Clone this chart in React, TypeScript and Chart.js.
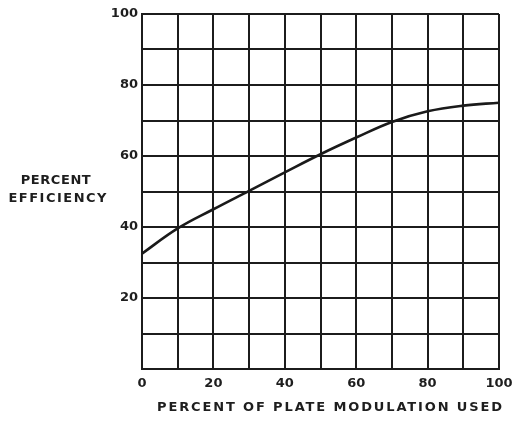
import React, { useEffect, useRef } from "react";
import { Chart, registerables } from "chart.js";

Chart.register(...registerables);

const modulation = [0, 10, 20, 30, 40, 50, 60, 70, 80, 90, 100];
const efficiency = [32.5, 39.6, 45, 50.2, 55.4, 60.5, 65.2, 69.6, 72.6, 74.2, 75];
const xTickLabels = [0, 20, 40, 60, 80, 100];
const yTickLabels = [20, 40, 60, 80, 100];
const yTitleLines = ["PERCENT", "EFFICIENCY"];
const xTitle = "PERCENT OF PLATE MODULATION USED";

const INK = "#1e1e1e";
const FONT_FAMILY = "'DejaVu Sans', sans-serif";

const titlePlugin = {
  id: "titles",
  afterDraw(chart: any) {
    const ctx = chart.ctx as CanvasRenderingContext2D;
    ctx.save();
    ctx.fillStyle = INK;
    ctx.textBaseline = "middle";
    ctx.textAlign = "center";
    ctx.font = `bold 13px ${FONT_FAMILY}`;
    const yCenters = [181, 198.5];
    const yTargets = [70, 98];
    yTitleLines.forEach((line, i) => {
      (ctx as any).letterSpacing = "0px";
      const w0 = ctx.measureText(line).width;
      const ls = (yTargets[i] - w0) / Math.max(1, line.length - 1);
      (ctx as any).letterSpacing = `${ls}px`;
      const x = i === 0 ? 55.7 : 57.5;
      ctx.fillText(line, x + ls / 2, yCenters[i]);
    });
    (ctx as any).letterSpacing = "0px";
    const w = ctx.measureText(xTitle).width;
    const ls = (345 - w) / (xTitle.length - 1);
    (ctx as any).letterSpacing = `${ls}px`;
    ctx.fillText(xTitle, 329.5 + ls / 2, 408);
    (ctx as any).letterSpacing = "0px";
    ctx.restore();
  },
};

export default function App() {
  const ref = useRef<HTMLCanvasElement | null>(null);
  useEffect(() => {
    if (!ref.current) return;
    const tickFont = { family: FONT_FAMILY, size: 13, weight: "bold" as const };
    const chart = new Chart(ref.current, {
      type: "line",
      data: {
        datasets: [
          {
            data: modulation.map((m, i) => ({ x: m, y: efficiency[i] })),
            borderColor: "#1a1a1a",
            borderWidth: 2.6,
            pointRadius: 0,
            tension: 0.4,
            fill: false,
          },
        ],
      },
      options: {
        animation: false,
        responsive: true,
        maintainAspectRatio: false,
        layout: { padding: { top: 14, right: 14, left: 0, bottom: 0 } },
        plugins: { legend: { display: false }, tooltip: { enabled: false } },
        scales: {
          x: {
            type: "linear",
            min: 0,
            max: 100,
            afterFit: (s: any) => {
              s.height = 56;
              s.paddingLeft = 0;
              s.paddingRight = 0;
            },
            ticks: {
              stepSize: 10,
              autoSkip: false,
              maxRotation: 0,
              padding: 7,
              color: INK,
              font: tickFont,
              callback: (v: any) => (xTickLabels.includes(Number(v)) ? String(v) : ""),
            },
            grid: { color: "#1c1c1c", lineWidth: 2, drawTicks: false },
            border: { display: true, color: "#1c1c1c", width: 2 },
          },
          y: {
            min: 0,
            max: 100,
            afterFit: (s: any) => {
              s.width = 142;
              s.paddingTop = 0;
              s.paddingBottom = 0;
            },
            ticks: {
              stepSize: 10,
              autoSkip: false,
              padding: 4,
              color: INK,
              font: tickFont,
              callback: (v: any) => (yTickLabels.includes(Number(v)) ? String(v) : ""),
            },
            grid: { color: "#1c1c1c", lineWidth: 2, drawTicks: false },
            border: { display: true, color: "#1c1c1c", width: 2 },
          },
        },
      },
      plugins: [titlePlugin],
    } as any);
    return () => chart.destroy();
  }, []);
  return (
    <div style={{ position: "fixed", left: 0, top: 0, width: 513, height: 425, background: "#fff" }}>
      <canvas ref={ref} />
    </div>
  );
}
